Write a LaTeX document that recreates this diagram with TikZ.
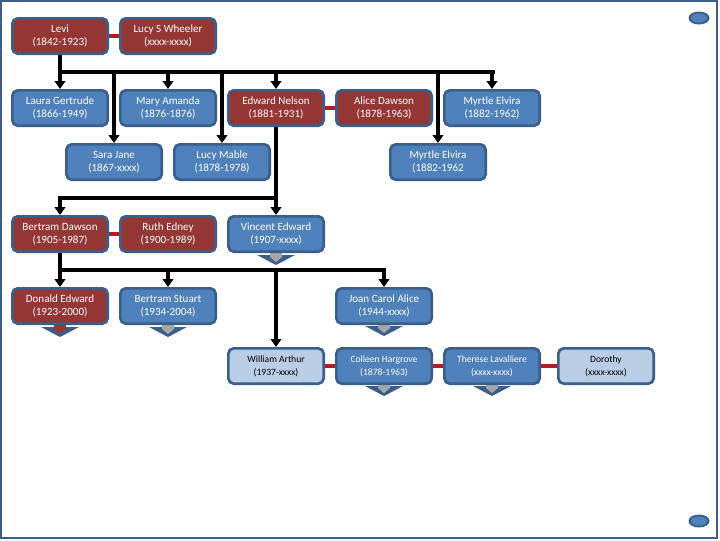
\documentclass[tikz,border=0pt]{standalone}
\usepackage{fontspec}
\setmainfont{Carlito}
\usetikzlibrary{arrows.meta}
\definecolor{bdr}{HTML}{3A5F8B}
\definecolor{bluefill}{HTML}{4F81BD}
\definecolor{redfill}{HTML}{953735}
\definecolor{lightfill}{HTML}{B9CDE5}
\definecolor{linkred}{HTML}{B01E23}
\definecolor{indgray}{HTML}{A6A6A6}
\tikzset{
  box/.style={draw=bdr, line width=2pt, rounded corners=4pt,
    minimum width=71.5pt, minimum height=26.5pt, inner sep=1pt, align=center,
    font=\fontsize{8.3}{9.75}\selectfont},
  bluebox/.style={box, fill=bluefill, text=white},
  redbox/.style={box, fill=redfill, text=white},
  lightbox/.style={box, fill=lightfill, text=black},
  small/.style={font=\fontsize{7.2}{9.75}\selectfont},
  link/.style={draw=linkred, line width=2.7pt},
  kin/.style={draw=black, line width=2.6pt},
  kinarrow/.style={kin, -{Triangle[width=8pt,length=6pt]}},
  pics/ind/.style={code={
    \fill[bdr] (-19,2) -- (19,2) -- (0,12) -- cycle;
    \fill[#1] (-6,-1) -- (6,-1) -- (6,4) -- (0,9) -- (-6,4) -- cycle;
  }}
}
\begin{document}
\begin{tikzpicture}[x=0.75pt,y=-0.75pt]
\useasboundingbox (0,0) rectangle (720,540);
\fill[white] (0,0) rectangle (720,540);
\draw[bdr, line width=2pt] (1,1) rectangle (717,538);
\fill[bdr] (699,18) ellipse [x radius=10.5, y radius=6.5];
\fill[bluefill] (699,18) ellipse [x radius=8, y radius=4.5];
\fill[bdr] (699,521) ellipse [x radius=10.5, y radius=6.5];
\fill[bluefill] (699,521) ellipse [x radius=8, y radius=4.5];

% indicators (drawn first, under boxes)
\coordinate (iv) at (276,253);
\coordinate (id) at (60,325);
\coordinate (ib) at (168,325);
\coordinate (ij) at (384,324);
\coordinate (ic) at (384,384);
\coordinate (it) at (492,384);
\pic at (iv) {ind=indgray};
\pic at (id) {ind=redfill};
\pic at (ib) {ind=indgray};
\pic at (ij) {ind=indgray};
\pic at (ic) {ind=indgray};
\pic at (it) {ind=indgray};

% row 1
\node[redbox] (levi) at (60,36) {Levi\\(1842-1923)};
\node[redbox] (lucyw) at (168,36) {Lucy S Wheeler\\(xxxx-xxxx)};
% row 2
\node[bluebox] (laura) at (60,108) {Laura Gertrude\\(1866-1949)};
\node[bluebox] (mary) at (168,108) {Mary Amanda\\(1876-1876)};
\node[redbox] (edward) at (276,108) {Edward Nelson\\(1881-1931)};
\node[redbox] (alice) at (384,108) {Alice Dawson\\(1878-1963)};
\node[bluebox] (myrtle) at (492,108) {Myrtle Elvira\\(1882-1962)};
% row 3
\node[bluebox] (sara) at (114,162) {Sara Jane\\(1867-xxxx)};
\node[bluebox] (lucym) at (222,162) {Lucy Mable\\(1878-1978)};
\node[bluebox] (myrtleb) at (438,162) {Myrtle Elvira\\(1882-1962};
% row 4
\node[redbox] (bertram) at (60,234) {Bertram Dawson\\(1905-1987)};
\node[redbox] (ruth) at (168,234) {Ruth Edney\\(1900-1989)};
\node[bluebox] (vincent) at (276,234) {Vincent Edward\\(1907-xxxx)};
% row 5
\node[redbox] (donald) at (60,306) {Donald Edward\\(1923-2000)};
\node[bluebox] (bstuart) at (168,306) {Bertram Stuart\\(1934-2004)};
\node[bluebox] (joan) at (384,306) {Joan Carol Alice\\(1944-xxxx)};
% row 6
\node[lightbox, small] (william) at (276,366) {William Arthur\\(1937-xxxx)};
\node[bluebox, small] (colleen) at (384,366) {Colleen Hargrove\\(1878-1963)};
\node[bluebox, small] (therese) at (492,366) {Therese Lavalliere\\(xxxx-xxxx)};
\node[lightbox, small] (dorothy) at (606,366) {Dorothy\\(xxxx-xxxx)};

% marriage links
\draw[link] (levi) -- (lucyw);
\draw[link] (edward) -- (alice);
\draw[link] (bertram) -- (ruth);
\draw[link] (william) -- (colleen);
\draw[link] (colleen) -- (therese);
\draw[link] (therese) -- (dorothy);

% family 1
\coordinate (b1l) at (60,72);
\coordinate (b1r) at (493,72);
\draw[kin] (levi.south) -- (b1l);
\draw[kin, line cap=rect] (b1l) -- (b1r);
\draw[kinarrow] (laura.north |- b1l) -- (laura.north);
\draw[kinarrow] (sara.north |- b1l) -- (sara.north);
\draw[kinarrow] (mary.north |- b1l) -- (mary.north);
\draw[kinarrow] (lucym.north |- b1l) -- (lucym.north);
\draw[kinarrow] (edward.north |- b1l) -- (edward.north);
\draw[kinarrow] (myrtleb.north |- b1l) -- (myrtleb.north);
\draw[kinarrow] (myrtle.north |- b1l) -- (myrtle.north);

% family 2
\coordinate (b2r) at (276,198);
\coordinate (b2l) at (60,198);
\draw[kin] (edward.south) -- (b2r);
\draw[kin, line cap=rect] (b2l) -- (b2r);
\draw[kinarrow] (b2l) -- (bertram.north);
\draw[kinarrow] (b2r) -- (vincent.north);

% family 3
\coordinate (b3l) at (60,270);
\coordinate (b3r) at (384,270);
\draw[kin] (bertram.south) -- (b3l);
\draw[kin, line cap=rect] (b3l) -- (b3r);
\draw[kinarrow] (b3l) -- (donald.north);
\draw[kinarrow] (bstuart.north |- b3l) -- (bstuart.north);
\draw[kinarrow] (b3r) -- (joan.north);
\draw[kinarrow] (william.north |- b3l) -- (william.north);
\end{tikzpicture}
\end{document}
